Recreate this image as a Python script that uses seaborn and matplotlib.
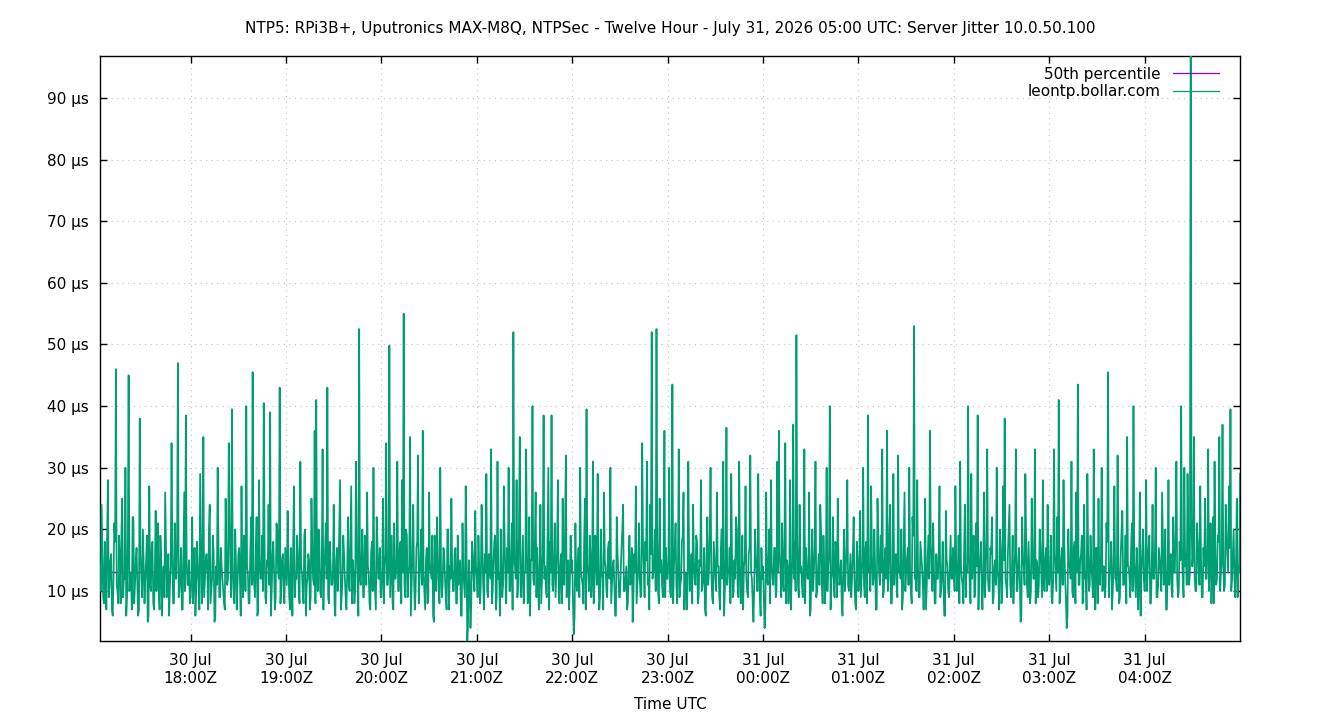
import pandas as pd
import numpy as np
import matplotlib
matplotlib.use("Agg")
import matplotlib.pyplot as plt
import matplotlib.dates as mdates
import seaborn as sns

# --- Values (server jitter in µs, two samples per minute) ---
start_time = "2026-07-30 17:03"

# samples on the full minute, one list per hour
jitter_17 = [14, 24, 9, 18, 7, 28, 11, 16, 6, 21, 46, 10, 19, 8, 25, 12, 30, 9, 45, 13,
             7, 22, 11, 17, 6, 38, 12, 20, 8, 15, 5, 27, 10, 18, 7, 23, 13, 9, 19, 6,
             14, 26, 9, 16, 11, 34, 8, 21, 12, 47, 10, 17, 7, 26, 38.5, 11, 15]
jitter_18 = [9, 22, 13, 6, 18, 11, 29, 8, 35, 12, 16, 7, 24, 10, 19, 5, 14, 30, 9, 17,
             12, 8, 25, 11, 34, 14, 39.5, 10, 20, 7, 16, 12, 27, 9, 18, 40, 13, 8, 22, 45.5,
             11, 17, 6, 28, 12, 19, 40.5, 9, 15, 24, 39, 10, 18, 7, 21, 13, 43, 11, 16, 8]
jitter_19 = [14, 23, 9, 17, 6, 27, 12, 19, 10, 31, 13, 8, 20, 11, 16, 7, 25, 12, 36, 41,
             10, 18, 9, 33, 14, 21, 43, 8, 15, 11, 24, 6, 17, 13, 28, 9, 19, 12, 7, 22,
             10, 27, 15, 8, 31, 12, 52.5, 11, 20, 9, 16, 26, 13, 7, 18, 30, 10, 22, 12, 17]
jitter_20 = [9, 25, 13, 34, 11, 49.8, 14, 8, 21, 12, 31, 10, 18, 28, 55, 9, 19, 13, 35, 11,
             24, 7, 17, 32, 12, 20, 36, 10, 15, 8, 26, 13, 19, 5, 14, 22, 11, 30, 9, 17,
             12, 7, 20, 14, 25, 10, 16, 8, 19, 13, 6, 21, 11, 27, 1.5, 15, 4, 18, 12, 23]
jitter_21 = [12, 19, 8, 24, 11, 16, 29, 9, 14, 33, 10, 18, 7, 31, 13, 20, 9, 27, 12, 17,
             30, 10, 21, 52, 14, 28, 11, 35, 9, 19, 13, 33, 8, 22, 15, 40, 11, 26, 17, 7,
             24, 12, 38.5, 14, 9, 30, 18, 38.5, 10, 21, 13, 28, 8, 16, 25, 11, 32, 14, 7, 19]
jitter_22 = [15, 3, 21, 10, 17, 30, 12, 8, 25, 39.5, 13, 19, 9, 31, 11, 16, 29, 7, 20, 12,
             26, 14, 9, 18, 30, 11, 15, 6, 22, 13, 9, 17, 24, 10, 14, 8, 19, 12, 5, 16,
             27, 11, 21, 9, 34, 14, 18, 31, 12, 24, 52, 13, 20, 52.5, 10, 25, 15, 9, 36, 17]
jitter_23 = [12, 30, 9, 43.5, 14, 21, 8, 33, 11, 18, 26, 13, 7, 31, 10, 16, 24, 12, 19, 8,
             15, 28, 11, 17, 6, 22, 13, 30, 9, 18, 12, 26, 14, 7, 20, 31, 10, 36.5, 13, 17,
             29, 9, 15, 22, 11, 31, 8, 19, 14, 27, 10, 16, 32, 12, 5, 20, 13, 29, 9, 17]
jitter_00 = [14, 4, 26, 11, 20, 28, 12, 17, 9, 31, 36, 13, 21, 10, 34, 15, 8, 28, 12, 37,
             18, 51.5, 11, 24, 14, 9, 33, 17, 12, 26, 7, 20, 13, 31, 10, 16, 24, 11, 19, 8,
             30, 14, 40, 12, 22, 9, 17, 25, 11, 15, 6, 20, 13, 28, 10, 16, 12, 22, 8, 18]
jitter_01 = [10, 23, 12, 30, 9, 18, 38.5, 14, 27, 11, 20, 7, 25, 13, 19, 33, 10, 17, 36, 12,
             24, 8, 29, 15, 11, 32, 14, 20, 9, 26, 13, 17, 30, 10, 22, 53, 12, 28, 9, 18,
             14, 7, 25, 11, 19, 36, 13, 21, 8, 16, 12, 27, 10, 18, 6, 23, 14, 9, 19, 12]
jitter_02 = [13, 27, 10, 19, 31, 12, 8, 24, 14, 40, 11, 29, 16, 9, 21, 38.5, 13, 18, 7, 26,
             12, 33, 10, 17, 22, 9, 15, 30, 12, 20, 8, 27, 38, 11, 16, 24, 9, 19, 13, 33,
             10, 17, 5, 22, 14, 29, 11, 18, 8, 25, 12, 33, 15, 9, 20, 13, 28, 10, 17, 24]
jitter_03 = [11, 19, 8, 33, 13, 22, 41, 10, 17, 28, 12, 4, 20, 14, 31, 9, 18, 26, 43.5, 11,
             16, 8, 24, 13, 29, 10, 19, 12, 33, 7, 17, 25, 11, 30, 14, 9, 21, 45.5, 13, 18,
             10, 27, 12, 32, 8, 16, 23, 11, 19, 35, 14, 9, 21, 40, 12, 17, 7, 26, 13, 20]
jitter_04 = [10, 28, 14, 19, 8, 24, 12, 30, 9, 17, 13, 26, 11, 20, 7, 28, 15, 10, 22, 13,
             31, 9, 18, 40, 12, 30, 16, 29, 11, 110, 14, 35, 10, 21, 13, 27, 9, 17, 25, 12,
             33, 15, 8, 22, 31, 11, 19, 35, 13, 37, 10, 24, 16, 27, 39.5, 12, 20, 9, 25, 14,
             29]

# samples on the half minute, one list per hour
half_17 = [10, 16, 8, 13, 19, 9, 15, 7, 12, 18, 11, 8, 14, 20, 9, 12, 6, 17, 10, 13,
           22, 8, 15, 11, 7, 16, 9, 14, 12, 19, 6, 11, 17, 8, 13, 10, 21, 7, 15, 12,
           9, 18, 11, 6, 14, 16, 8, 12, 19, 9, 13, 7, 17, 10, 15, 11, 8]
half_18 = [12, 8, 17, 10, 14, 7, 19, 11, 9, 15, 13, 20, 8, 12, 16, 6, 11, 18, 9, 14,
           10, 7, 16, 12, 21, 9, 13, 8, 15, 11, 17, 6, 12, 19, 10, 14, 8, 16, 11, 13,
           9, 22, 7, 15, 12, 10, 18, 8, 14, 11, 6, 16, 13, 9, 20, 12, 8, 15, 10, 17]
half_19 = [11, 15, 7, 13, 18, 9, 12, 16, 8, 14, 10, 19, 6, 12, 15, 9, 17, 11, 8, 13,
           20, 10, 14, 7, 16, 12, 9, 18, 11, 13, 8, 15, 10, 21, 7, 12, 16, 9, 14, 11,
           18, 8, 13, 10, 17, 6, 12, 15, 9, 19, 11, 14, 8, 16, 10, 13, 7, 18, 12, 9]
half_20 = [13, 8, 16, 11, 14, 9, 19, 7, 12, 15, 10, 17, 8, 13, 11, 20, 9, 14, 6, 16,
           12, 10, 18, 8, 15, 11, 13, 7, 17, 9, 14, 12, 6, 19, 10, 15, 8, 13, 11, 16,
           9, 20, 7, 12, 14, 10, 17, 8, 11, 15, 6, 13, 9, 18, 5, 12, 8, 16, 10, 14]
half_21 = [9, 14, 11, 17, 7, 13, 10, 16, 12, 8, 15, 19, 9, 12, 6, 14, 11, 18, 8, 13,
           10, 16, 7, 15, 12, 9, 20, 11, 14, 8, 13, 17, 10, 6, 15, 12, 18, 9, 11, 14,
           8, 16, 12, 10, 19, 7, 13, 11, 15, 9, 17, 10, 14, 8, 12, 20, 9, 15, 11, 13]
half_22 = [8, 6, 12, 15, 9, 13, 11, 18, 7, 14, 10, 16, 12, 8, 19, 11, 14, 9, 13, 7,
           15, 10, 17, 12, 8, 14, 11, 6, 16, 9, 13, 20, 10, 12, 7, 15, 11, 17, 9, 13,
           8, 14, 12, 10, 18, 9, 15, 11, 7, 16, 12, 14, 10, 19, 8, 13, 11, 17, 9, 12]
half_23 = [15, 10, 13, 8, 17, 11, 14, 9, 12, 19, 7, 13, 10, 16, 12, 8, 15, 11, 18, 9,
           14, 10, 12, 7, 16, 11, 19, 13, 8, 15, 10, 14, 9, 17, 12, 6, 15, 11, 13, 8,
           16, 10, 12, 20, 9, 14, 11, 7, 15, 12, 9, 17, 13, 8, 11, 15, 10, 14, 6, 12]
half_00 = [9, 7, 12, 15, 8, 14, 11, 17, 10, 13, 16, 9, 12, 19, 8, 14, 11, 7, 15, 12,
           10, 18, 9, 13, 11, 16, 8, 14, 12, 6, 15, 10, 17, 9, 13, 11, 20, 8, 14, 12,
           10, 16, 7, 13, 11, 18, 9, 15, 12, 8, 14, 10, 17, 11, 13, 9, 16, 12, 7, 15]
half_01 = [12, 9, 15, 11, 17, 8, 13, 10, 16, 12, 14, 7, 18, 11, 13, 9, 15, 12, 10, 20,
           8, 14, 11, 16, 9, 13, 12, 7, 17, 10, 15, 11, 13, 8, 19, 12, 10, 14, 9, 16,
           11, 13, 7, 15, 12, 18, 10, 14, 8, 12, 16, 9, 13, 11, 6, 15, 10, 14, 12, 17]
half_02 = [10, 15, 12, 8, 14, 11, 17, 9, 13, 16, 8, 12, 19, 10, 14, 7, 15, 11, 13, 9,
           18, 12, 10, 16, 8, 14, 11, 13, 7, 17, 10, 15, 12, 9, 20, 11, 13, 8, 16, 10,
           14, 12, 6, 15, 11, 18, 9, 13, 10, 16, 12, 8, 14, 11, 17, 9, 13, 15, 10, 12]
half_03 = [14, 9, 12, 16, 10, 13, 8, 15, 11, 18, 9, 6, 14, 12, 10, 17, 8, 13, 11, 15,
           19, 10, 12, 7, 16, 11, 14, 9, 13, 17, 8, 12, 15, 10, 14, 11, 18, 9, 13, 7,
           16, 12, 10, 15, 9, 20, 11, 13, 8, 14, 12, 17, 10, 15, 9, 13, 11, 6, 16, 12]
half_04 = [13, 10, 17, 8, 14, 12, 16, 9, 11, 15, 10, 18, 12, 7, 14, 11, 16, 9, 13, 20,
           12, 10, 15, 17, 9, 14, 11, 19, 13, 22, 16, 12, 10, 18, 11, 15, 9, 14, 12, 17,
           10, 21, 13, 8, 16, 12, 18, 10, 15, 14, 11, 19, 13, 17, 10, 16, 12, 15, 9, 13]

median_us = 13.1
title = "NTP5: RPi3B+, Uputronics MAX-M8Q, NTPSec - Twelve Hour - July 31, 2026 05:00 UTC: Server Jitter 10.0.50.100"
series_label = "leontp.bollar.com"
median_label = "50th percentile"
y_ticks = [10, 20, 30, 40, 50, 60, 70, 80, 90]

minute_lists = [jitter_17, jitter_18, jitter_19, jitter_20, jitter_21, jitter_22,
                jitter_23, jitter_00, jitter_01, jitter_02, jitter_03, jitter_04]
half_lists = [half_17, half_18, half_19, half_20, half_21, half_22,
              half_23, half_00, half_01, half_02, half_03, half_04]

jitter = []
for full, half in zip(minute_lists, half_lists):
    for i, v in enumerate(full):
        jitter.append(v)
        if i < len(half):
            jitter.append(half[i])

df = pd.DataFrame({
    "time": pd.date_range(start=start_time, periods=len(jitter), freq="30s"),
    "jitter": jitter,
})

# --- Plot ---
plt.rcParams["font.family"] = ["DejaVu Sans"]
fig = plt.figure(figsize=(13.4, 7.2), dpi=100)
ax = fig.add_axes([100 / 1340, 1 - 641 / 720, 1140 / 1340, 585 / 720])

ax.axhline(median_us, color="#9400d3", lw=1.0, label=median_label, zorder=2)
sns.lineplot(data=df, x="time", y="jitter", ax=ax, color="#009e73", lw=1.25,
             estimator=None, label=series_label, zorder=3)

ax.set_xlim(df["time"].iloc[0], df["time"].iloc[-1])
ax.set_ylim(1.9, 96.8)

hour_ticks = pd.date_range("2026-07-30 18:00", "2026-07-31 04:00", freq="h")
ax.set_xticks(hour_ticks)
ax.xaxis.set_major_formatter(mdates.DateFormatter("%d %b\n%H:%MZ"))
ax.set_yticks(y_ticks)
ax.set_yticklabels([f"{v} µs" for v in y_ticks])

ax.tick_params(direction="in", length=5, width=1, labelsize=11, color="black",
               top=True, right=True)
ax.tick_params(axis="y", pad=8)
ax.tick_params(axis="x", pad=9)
ax.grid(True, color="#c0c0c0", linestyle=(0, (1, 4)), linewidth=0.8)
for s in ax.spines.values():
    s.set_linewidth(1)
    s.set_color("black")

ax.set_xlabel("Time UTC", fontsize=11, labelpad=8)
ax.set_ylabel("")
fig.suptitle(title, fontsize=11, y=1 - 28 / 720, va="center")

leg = ax.legend(loc="upper right", bbox_to_anchor=(1 - 15 / 1140, 1 - 4.6 / 585),
                borderaxespad=0, frameon=False, markerfirst=False, fontsize=11,
                handlelength=3.0, labelspacing=0.15, handletextpad=0.8)
for h in leg.get_lines():
    h.set_linewidth(0.9)

fig.savefig("out.png", dpi=100)
